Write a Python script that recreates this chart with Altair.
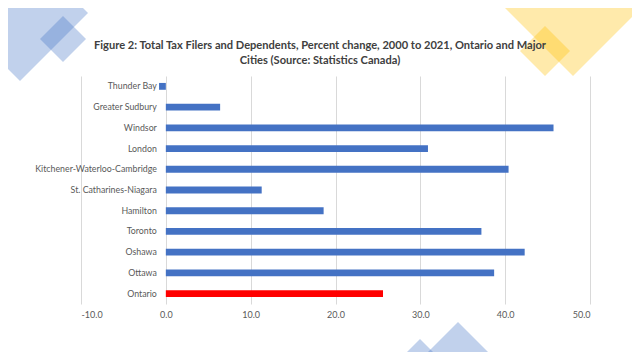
import altair as alt
import pandas as pd

cities = ["Thunder Bay", "Greater Sudbury", "Windsor", "London",
          "Kitchener-Waterloo-Cambridge", "St. Catharines-Niagara", "Hamilton",
          "Toronto", "Oshawa", "Ottawa", "Ontario"]
pct_change = [-0.8, 6.4, 45.7, 30.9, 40.4, 11.3, 18.6, 37.2, 42.3, 38.7, 25.6]
x_ticks = [-10, 0, 10, 20, 30, 40, 50]
title_lines = ["Figure 2: Total Tax Filers and Dependents, Percent change, 2000 to 2021, Ontario and Major",
               "Cities (Source: Statistics Canada)"]

df = pd.DataFrame({"city": cities, "pct": pct_change})

FONT = "Lato"
W, H = 509, 228

ybase = alt.Y("city:N", sort=cities, axis=None,
              scale=alt.Scale(paddingInner=0.67, paddingOuter=0.335))

bars = alt.Chart(df).mark_bar().encode(
    x=alt.X("pct:Q", title=None,
            scale=alt.Scale(domain=[-10, 50], nice=False, zero=False),
            axis=alt.Axis(values=x_ticks, grid=True, gridColor="#D9D9D9",
                          labelExpr="datum.value < 0 ? '-' + format(-datum.value, '.1f') : format(datum.value, '.1f')",
                          gridWidth=1, domain=False, ticks=False, labelColor="#595959",
                          labelFont=FONT, labelFontSize=9, labelPadding=6)),
    y=ybase,
    color=alt.condition(alt.datum.city == "Ontario", alt.value("#FF0000"), alt.value("#4472C4")),
)

labels = alt.Chart(df).mark_text(align="right", baseline="middle", dx=-9,
                                 font=FONT, fontSize=8.8, color="#595959").encode(
    x=alt.datum(0),
    y=ybase,
    text="city:N",
)

dummy = pd.DataFrame({"d": [0]})

def diamond(cx, cy, r, color, op=0.33):
    return alt.Chart(dummy).mark_point(shape="diamond", filled=True, color=color,
                                       opacity=op, strokeWidth=0).encode(
        x=alt.value(cx), y=alt.value(cy), size=alt.value(4 * r * r))

decor = [
    diamond(-61, -63, 68, "#4472C4"),
    diamond(-18, -37, 23, "#4472C4"),
    diamond(492, -78, 78, "#FFC000"),
    diamond(464, -25, 25, "#FFC000"),
    diamond(377, 306, 60, "#4472C4"),
    diamond(339, 303, 40, "#4472C4"),
]

title = alt.Chart(dummy).mark_text(align="center", baseline="middle", font=FONT,
                                   fontSize=11.1, fontWeight="bold", color="#404040",
                                   lineHeight=15, lineBreak="\n").encode(
    x=alt.value(239), y=alt.value(-30.5),
    text=alt.value("\n".join(title_lines)),
)

chart = alt.layer(*decor, bars, labels, title).properties(
    width=W, height=H,
    autosize=alt.AutoSizeParams(type="none"),
    padding={"left": 73, "top": 68, "right": 42, "bottom": 48},
).configure_view(stroke=None)

chart.save("out.html", embed_options={"renderer": "svg", "actions": False})
